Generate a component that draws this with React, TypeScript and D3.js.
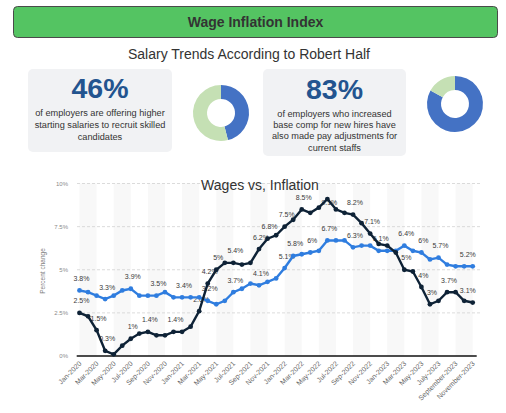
import React from "react";
import * as d3 from "d3";

const months = [
  "Jan-2020","Feb-2020","Mar-2020","Apr-2020","May-2020","Jun-2020","Jul-2020","Aug-2020","Sep-2020","Oct-2020","Nov-2020","Dec-2020",
  "Jan-2021","Feb-2021","Mar-2021","Apr-2021","May-2021","Jun-2021","Jul-2021","Aug-2021","Sep-2021","Oct-2021","Nov-2021","Dec-2021",
  "Jan-2022","Feb-2022","Mar-2022","Apr-2022","May-2022","Jun-2022","Jul-2022","Aug-2022","Sep-2022","Oct-2022","Nov-2022","Dec-2022",
  "Jan-2023","Feb-2023","Mar-2023","Apr-2023","May-2023","Jun-2023","July-2023","Aug-2023","September-2023","Oct-2023","November-2023",
];

const wages = [
  3.8, 3.7, 3.5, 3.3, 3.5, 3.8, 3.9, 3.5, 3.5, 3.5, 3.7, 3.4,
  3.4, 3.4, 3.4, 3.2, 3.0, 3.2, 3.7, 3.9, 4.2, 4.1, 4.3, 4.5,
  5.1, 5.8, 5.9, 6.0, 6.1, 6.7, 6.7, 6.7, 6.3, 6.4, 6.4, 6.1,
  6.1, 6.1, 6.4, 6.1, 6.0, 5.6, 5.7, 5.3, 5.2, 5.2, 5.2,
];

const inflation = [
  2.5, 2.3, 1.5, 0.3, 0.1, 0.6, 1.0, 1.3, 1.4, 1.2, 1.2, 1.4,
  1.4, 1.7, 2.6, 4.2, 5.0, 5.4, 5.4, 5.3, 5.4, 6.2, 6.8, 7.0,
  7.5, 7.9, 8.5, 8.3, 8.6, 9.1, 8.5, 8.3, 8.2, 7.7, 7.1, 6.5,
  6.4, 6.0, 5.0, 4.9, 4.0, 3.0, 3.2, 3.7, 3.7, 3.2, 3.1,
];

const wageLabelIdx = [0, 3, 6, 9, 12, 15, 18, 21, 24, 25, 27, 29, 32, 35, 38, 40, 42, 46];
const inflationLabelIdx = [0, 2, 3, 6, 8, 11, 14, 15, 16, 18, 21, 22, 24, 26, 29, 32, 34, 38, 40, 41, 43, 46];

const yTicks = [0, 2.5, 5, 7.5, 10];

const stats = [
  { value: 46, lines: ["of employers are offering higher", "starting salaries to recruit skilled", "candidates"] },
  { value: 83, lines: ["of employers who increased", "base comp for new hires have", "also made pay adjustments for", "current staffs"] },
];

const FONT = "'Liberation Sans', Arial, Helvetica, sans-serif";
const BLUE = "#2f7ddf";
const DARK = "#0e2236";

const fmt = (v: number) => `${+v.toFixed(1)}%`;

function Donut({ cx, cy, value }: { cx: number; cy: number; value: number }) {
  const pie = d3.pie<number>().sort(null).value((d) => d);
  const arcs = pie([value, 100 - value]);
  const arc = d3.arc<d3.PieArcDatum<number>>().innerRadius(14).outerRadius(28);
  const colors = ["#4472c4", "#c5e0b4"];
  return (
    <g transform={`translate(${cx},${cy})`}>
      {arcs.map((a, i) => (
        <path key={i} d={arc(a) || ""} fill={colors[i]} />
      ))}
    </g>
  );
}

export default function App() {
  const W = 506, H = 413;
  const x = d3.scalePoint<string>().domain(months).range([79.5, 472.7]);
  const y = d3.scaleLinear().domain([0, 10]).range([356, 183.5]);
  const px = (i: number) => x(months[i]) as number;

  const line = d3.line<number>().x((_, i) => px(i)).y((d) => y(d));

  const bands: { x0: number; x1: number }[] = [];
  for (let i = 0; i < months.length; i += 4) {
    bands.push({ x0: px(i), x1: px(Math.min(i + 2, months.length - 1)) });
  }

  const labelX = (i: number, v: number) => {
    const w = fmt(v).length * 3.6;
    let cx = px(i) + 2;
    if (cx + w / 2 > 475) cx = 475 - w / 2;
    return cx;
  };
  const labelY = (v: number) => {
    const b = y(v) - 9.5;
    return b < 192 ? y(v) + 6 : b;
  };

  const cards = [
    { x0: 28, x1: 172, y0: 69, y1: 152, numY: 98, lineY0: 116.3, lh: 11.7, donut: { cx: 221, cy: 113 } },
    { x0: 263, x1: 406, y0: 69, y1: 156, numY: 98.5, lineY0: 117, lh: 11.2, donut: { cx: 455, cy: 104 } },
  ];

  return (
    <svg width={W} height={H} style={{ position: "absolute", left: 0, top: 0, fontFamily: FONT }}>
      <rect width={W} height={H} fill="#fff" />
      {/* header */}
      <rect x={13.5} y={6.5} width={484} height={31} rx={4} fill="#54c462" stroke="#4a4a4a" strokeWidth={1} />
      <text x={255.5} y={27} textAnchor="middle" fontSize={14} fontWeight="bold" fill="#333">Wage Inflation Index</text>
      <text x={249} y={59} textAnchor="middle" fontSize={14} fill="#333">Salary Trends According to Robert Half</text>

      {stats.map((s, k) => {
        const c = cards[k];
        const cx = (c.x0 + c.x1) / 2;
        return (
          <g key={k}>
            <rect x={c.x0} y={c.y0} width={c.x1 - c.x0} height={c.y1 - c.y0} rx={5} fill="#f1f2f4" />
            <text x={cx} y={c.numY} textAnchor="middle" fontSize={28.5} fontWeight="bold" fill="#23548f">{s.value}%</text>
            {s.lines.map((l, j) => (
              <text key={j} x={cx} y={c.lineY0 + j * c.lh} textAnchor="middle" fontSize={9.2} fill="#333">{l}</text>
            ))}
            <Donut cx={c.donut.cx} cy={c.donut.cy} value={s.value} />
          </g>
        );
      })}

      {/* chart */}
      {bands.map((b, i) => (
        <rect key={i} x={b.x0} y={183.5} width={b.x1 - b.x0} height={356 - 183.5} fill="#f8f8f8" />
      ))}
      {yTicks.map((t) => (
        <g key={t}>
          {t > 0 && (
            <line x1={77} x2={480} y1={y(t)} y2={y(t)} stroke="#d2d2d2" strokeWidth={0.8} strokeDasharray="3,2" />
          )}
          <text x={68} y={y(t) + 2} textAnchor="end" fontSize={6} fill="#8a8a8a">{fmt(t)}</text>
        </g>
      ))}
      <line x1={76.7} x2={476.7} y1={356} y2={356} stroke="#111" strokeWidth={1.3} />
      <text transform={`translate(45,271) rotate(-90)`} textAnchor="middle" fontSize={6.5} fill="#808080">Percent change</text>
      <text x={260} y={190} textAnchor="middle" fontSize={14} fill="#333">Wages vs, Inflation</text>

      {months.map((m, i) =>
        i % 2 === 0 ? (
          <text key={m} transform={`translate(${px(i) + 2.5},${364}) rotate(-45)`} textAnchor="end" fontSize={7} fill="#666">{m}</text>
        ) : null
      )}

      {wageLabelIdx.map((i) => (
        <text key={"w" + i} x={labelX(i, wages[i])} y={labelY(wages[i])} textAnchor="middle" fontSize={7} fill="#3a3a3a">{fmt(wages[i])}</text>
      ))}
      {inflationLabelIdx.map((i) => (
        <text key={"c" + i} x={labelX(i, inflation[i])} y={labelY(inflation[i])} textAnchor="middle" fontSize={7} fill="#3a3a3a">{fmt(inflation[i])}</text>
      ))}

      <path d={line(wages) || ""} fill="none" stroke={BLUE} strokeWidth={2.4} />
      {wages.map((v, i) => (
        <circle key={i} cx={px(i)} cy={y(v)} r={2.4} fill={BLUE} />
      ))}
      <path d={line(inflation) || ""} fill="none" stroke={DARK} strokeWidth={2.4} />
      {inflation.map((v, i) => (
        <circle key={i} cx={px(i)} cy={y(v)} r={2.4} fill={DARK} />
      ))}
    </svg>
  );
}
